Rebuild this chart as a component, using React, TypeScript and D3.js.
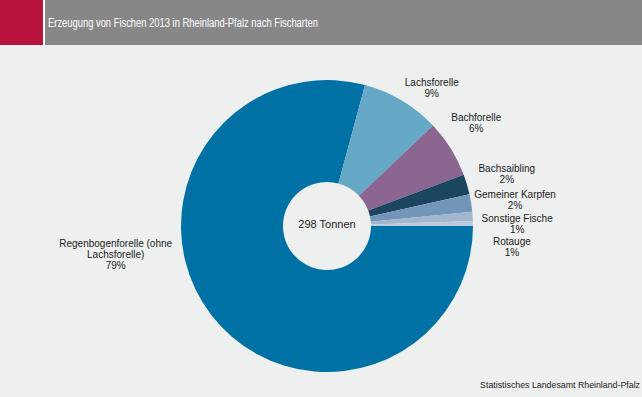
import { useMemo } from 'react';
import * as d3 from 'd3';

// production 2013 in tonnes (total 298 t)
const species = [
  ['Regenbogenforelle (ohne', 'Lachsforelle)'],
  ['Lachsforelle'],
  ['Bachforelle'],
  ['Bachsaibling'],
  ['Gemeiner Karpfen'],
  ['Sonstige Fische'],
  ['Rotauge'],
];
const tonnes = [236, 26, 19, 6.6, 5.8, 3, 1.6];
const colors = ['#0071a4', '#66a9c7', '#8a6691', '#1c4660', '#7296b7', '#a2b6cd', '#bccbdc'];

// Excel-like manual label placement: angle shift (deg) and gap to the pie (px)
const labelShiftDeg = [30, 6.2, -2.6, 0.3, 0.9, 3.1, 7.2];
const labelGap = [9, 3, 8.5, 11, 2, 8.5, 20];

const W = 642;
const H = 397;
const BG = '#eef0ef';
const FONT = '"Liberation Sans", Arial, sans-serif';
const LINE = 11;

type Slice = d3.PieArcDatum<number>;

export default function App() {
  const cx = 327;
  const cy = 226;
  const outer = 146;
  const inner = 44;

  const arcs = useMemo(
    () =>
      d3
        .pie<number>()
        .sort(null)
        .startAngle(Math.PI / 2)
        .endAngle(Math.PI / 2 + 2 * Math.PI)(tonnes),
    [],
  );
  const arc = d3.arc<Slice>().innerRadius(inner).outerRadius(outer);
  const total = d3.sum(tonnes);

  // measure text width roughly for label box extents
  const measure = (s: string) => {
    const c = document.createElement('canvas').getContext('2d')!;
    c.font = `10px ${FONT}`;
    return c.measureText(s).width;
  };

  const labels = arcs.map((a, i) => {
    const lines = [...species[i], `${Math.round((a.value / total) * 100)}%`];
    const hw = d3.max(lines, measure)! / 2;
    const hh = (lines.length * LINE) / 2;
    const theta = (a.startAngle + a.endAngle) / 2 + (labelShiftDeg[i] * Math.PI) / 180;
    const sx = Math.sin(theta);
    const sy = -Math.cos(theta);
    const support = hw * Math.abs(sx) + hh * Math.abs(sy);
    const d = outer + labelGap[i] + support;
    return { lines, x: cx + d * sx, y: cy + d * sy };
  });

  return (
    <svg
      width={W}
      height={H}
      style={{ position: 'absolute', left: 0, top: 0, display: 'block' }}
      fontFamily={FONT}
    >
      <rect width={W} height={H} fill={BG} />
      <rect width={W} height={45} fill="#ffffff" />
      <rect width={43} height={45} fill="#b8123f" />
      <rect x={45} width={W - 45} height={45} fill="#878787" />
      <text
        x={48}
        y={27}
        fill="#ffffff"
        fontSize={12}
        textLength={270}
        lengthAdjust="spacingAndGlyphs"
      >
        Erzeugung von Fischen 2013 in Rheinland-Pfalz nach Fischarten
      </text>

      <g transform={`translate(${cx},${cy})`}>
        {arcs.map((a, i) => (
          <path key={i} d={arc(a) ?? ''} fill={colors[i]} />
        ))}
        <text textAnchor="middle" y={2} fontSize={11} fill="#1a1a1a">
          {`${Math.round(total)} Tonnen`}
        </text>
      </g>

      {labels.map((l, i) => (
        <text key={i} textAnchor="middle" fontSize={10} fill="#1a1a1a">
          {l.lines.map((t, j) => (
            <tspan key={j} x={l.x} y={l.y - (l.lines.length * LINE) / 2 + 9.5 + j * LINE}>
              {t}
            </tspan>
          ))}
        </text>
      ))}

      <text x={W - 2} y={388} textAnchor="end" fontSize={8.8} fill="#1a1a1a">
        Statistisches Landesamt Rheinland-Pfalz
      </text>
    </svg>
  );
}
